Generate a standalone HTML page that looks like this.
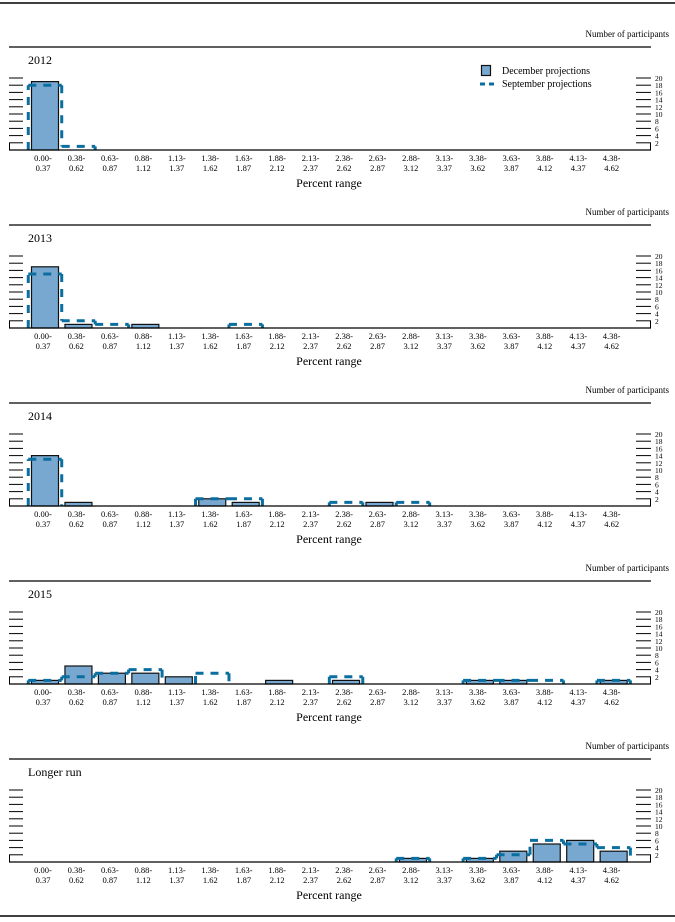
<!DOCTYPE html>
<html><head><meta charset="utf-8"><style>
html,body{margin:0;padding:0;background:#fff;}
svg{display:block;font-family:"Liberation Serif",serif;}
</style></head><body>
<svg id="chart" width="675" height="922" viewBox="0 0 675 922" xmlns="http://www.w3.org/2000/svg"></svg>
<script>
const bins = ["0.00-|0.37","0.38-|0.62","0.63-|0.87","0.88-|1.12","1.13-|1.37","1.38-|1.62","1.63-|1.87","1.88-|2.12","2.13-|2.37","2.38-|2.62","2.63-|2.87","2.88-|3.12","3.13-|3.37","3.38-|3.62","3.63-|3.87","3.88-|4.12","4.13-|4.37","4.38-|4.62"];
const panelTitles = ["2012","2013","2014","2015","Longer run"];
const decSeries = [
 [19,0,0,0,0,0,0,0,0,0,0,0,0,0,0,0,0,0],
 [17,1,0,1,0,0,0,0,0,0,0,0,0,0,0,0,0,0],
 [14,1,0,0,0,2,1,0,0,0,1,0,0,0,0,0,0,0],
 [1,5,3,3,2,0,0,1,0,1,0,0,0,1,1,0,0,1],
 [0,0,0,0,0,0,0,0,0,0,0,1,0,1,3,5,6,3]
];
const sepSeries = [
 [18,1,0,0,0,0,0,0,0,0,0,0,0,0,0,0,0,0],
 [15,2,1,0,0,0,1,0,0,0,0,0,0,0,0,0,0,0],
 [13,0,0,0,0,2,2,0,0,1,0,1,0,0,0,0,0,0],
 [1,2,3,4,0,3,0,0,0,2,0,0,0,1,1,1,0,1],
 [0,0,0,0,0,0,0,0,0,0,0,1,0,1,2,6,5,4]
];
const yTicks = [2,4,6,8,10,12,14,16,18,20];

const NS="http://www.w3.org/2000/svg";
const svgRoot=document.getElementById('chart');
function mk(tag,attrs,parent){const e=document.createElementNS(NS,tag);for(const k in attrs)e.setAttribute(k,attrs[k]);(parent||svgRoot).appendChild(e);return e;}
function txt(s,attrs,parent){const t=mk('text',attrs,parent);t.textContent=s;return t;}

const X0=45, BW=33.45, UNIT=3.6;
const xC=k=>X0+BW*k;

const topRule=mk('line',{x1:0,y1:3,x2:675,y2:3,stroke:'#000','stroke-width':1.5});


const botRule=mk('line',{x1:0,y1:916,x2:675,y2:916,stroke:'#000','stroke-width':1.5});



panelTitles.forEach((title,p)=>{
  const off=178*p, base=150+off;
  const yS=v=>base-v*UNIT;
  const g=mk('g',{});
  
  
  let t=txt('Number of participants',{x:669,y:37+off,'font-size':9,'text-anchor':'end'},g);
  
  
  let r=mk('line',{x1:9,y1:47+off,x2:651,y2:47+off,stroke:'#000','stroke-width':1.2},g);
  
  
  t=txt(title,{x:28,y:64+off,'font-size':12},g);
  
  
  yTicks.forEach(v=>{
    let a=mk('line',{x1:9,y1:yS(v),x2:23,y2:yS(v),stroke:'#000','stroke-width':1},g);
    
    
    let b=mk('line',{x1:636,y1:yS(v),x2:651,y2:yS(v),stroke:'#000','stroke-width':1},g);
    
    
    let l=txt(String(v),{x:655,y:yS(v)+3,'font-size':7.5},g);
    
    
  });
  mk('line',{x1:9.5,y1:base,x2:9.5,y2:yS(2),stroke:'#000','stroke-width':1},g);
  mk('line',{x1:650.5,y1:base,x2:650.5,y2:yS(2),stroke:'#000','stroke-width':1},g);
  decSeries[p].forEach((v,k)=>{
    if(v<=0)return;
    const b=mk('rect',{x:xC(k)-13.5,y:yS(v),width:27,height:v*UNIT,fill:'#78a8cf',stroke:'#111','stroke-width':1.2},g);
    
    
  });
  let d='';const s=sepSeries[p];
  for(let k=0;k<=s.length;k++){
    const v=k<s.length?s[k]:0, pv=k>0?s[k-1]:0;
    const xl=xC(k)-BW/2;
    if(v!==pv){d+=`M${xl},${yS(pv)}L${xl},${yS(v)}`;}
    if(v>0&&k<s.length){d+=`M${xl},${yS(v)}L${xl+BW},${yS(v)}`;}
  }
  if(d){
    const ln=mk('path',{d:d,fill:'none',stroke:'#0a6fa0','stroke-width':3,'stroke-dasharray':'8 7'},g);
    
    
  }
  let ax=mk('line',{x1:9,y1:base,x2:651,y2:base,stroke:'#000','stroke-width':1.3},g);
  
  
  bins.forEach((b,k)=>{
    const parts=b.split('|');
    let l1=txt(parts[0],{x:xC(k)-2,y:base+11,'font-size':8.5,'text-anchor':'middle'},g);
    
    
    let l2=txt(parts[1],{x:xC(k)-2,y:base+21,'font-size':8.5,'text-anchor':'middle'},g);
    
    
  });
  t=txt('Percent range',{x:329,y:base+37,'font-size':12,'text-anchor':'middle'},g);
  
  
  if(p===0){
    const lg=mk('g',{},g);
    
    
    mk('rect',{x:481.5,y:65.5,width:9,height:10,fill:'#78a8cf',stroke:'#111','stroke-width':1.2},lg);
    let e1=txt('December projections',{x:502,y:74,'font-size':10},lg);
    
    
    mk('line',{x1:480,y1:84,x2:495,y2:84,stroke:'#0a6fa0','stroke-width':3,'stroke-dasharray':'5 4'},lg);
    let e2=txt('September projections',{x:502,y:87,'font-size':10},lg);
    
    
  }
});
</script>
</body></html>
